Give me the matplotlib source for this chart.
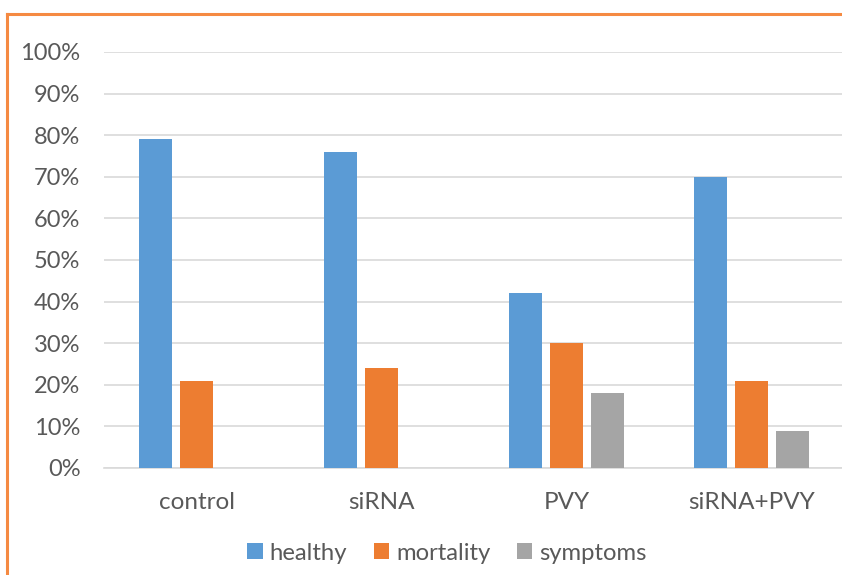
import matplotlib
matplotlib.use("Agg")
import matplotlib.pyplot as plt
from matplotlib.lines import Line2D
from matplotlib.ticker import PercentFormatter

categories = ["control", "siRNA", "PVY", "siRNA+PVY"]
healthy = [0.79, 0.76, 0.42, 0.70]
mortality = [0.21, 0.24, 0.30, 0.21]
symptoms = [0.0, 0.0, 0.18, 0.09]
series_names = ["healthy", "mortality", "symptoms"]
colors = ["#5B9BD5", "#ED7D31", "#A5A5A5"]
yticks = [i / 10 for i in range(11)]

W, H = 842, 575
plt.rcParams["font.family"] = ["Lato", "DejaVu Sans"]
text_color = "#595959"

fig = plt.figure(figsize=(W / 100, H / 100), dpi=100)
ax = fig.add_axes([104 / W, 1 - 468 / H, (844 - 104) / W, (468 - 52) / H])

x = list(range(len(categories)))
pitch = 0.222
width = 0.178
for k, (vals, name, c) in enumerate(zip([healthy, mortality, symptoms], series_names, colors)):
    off = (k - 1) * pitch
    ax.bar([xi + off for xi in x], vals, width=width, color=c, label=name, zorder=3)

ax.set_xlim(-0.5, len(categories) - 0.5)
ax.set_ylim(0, 1.0)
ax.set_yticks(yticks)
ax.yaxis.set_major_formatter(PercentFormatter(1.0, decimals=0))
ax.set_xticks(x)
ax.set_xticklabels(categories)
ax.grid(axis="y", color="#D9D9D9", linewidth=1.2, zorder=0)
for s in ["top", "right", "left"]:
    ax.spines[s].set_visible(False)
ax.spines["bottom"].set_color("#D9D9D9")
ax.spines["bottom"].set_linewidth(1.2)
ax.tick_params(axis="x", length=0, labelsize=17.5, colors=text_color, pad=17)
ax.tick_params(axis="y", length=0, labelsize=17, colors=text_color, pad=17)

handles, labels = ax.get_legend_handles_labels()
fig.legend(handles, labels, loc="center", ncol=3,
           bbox_to_anchor=(447 / W, 1 - 553 / H), frameon=False,
           fontsize=17.2, labelcolor=text_color, handlelength=0.65,
           handleheight=0.65, handletextpad=0.3, columnspacing=1.1)

# chart border (top and left edges)
border = "#F58A42"
fig.add_artist(Line2D([7 / W, 1.0], [1 - 14 / H, 1 - 14 / H], color=border, linewidth=2.2,
                      transform=fig.transFigure))
fig.add_artist(Line2D([7 / W, 7 / W], [1 - 14 / H, 0.0], color=border, linewidth=2.2,
                      transform=fig.transFigure))

fig.savefig("out.png", dpi=100)
